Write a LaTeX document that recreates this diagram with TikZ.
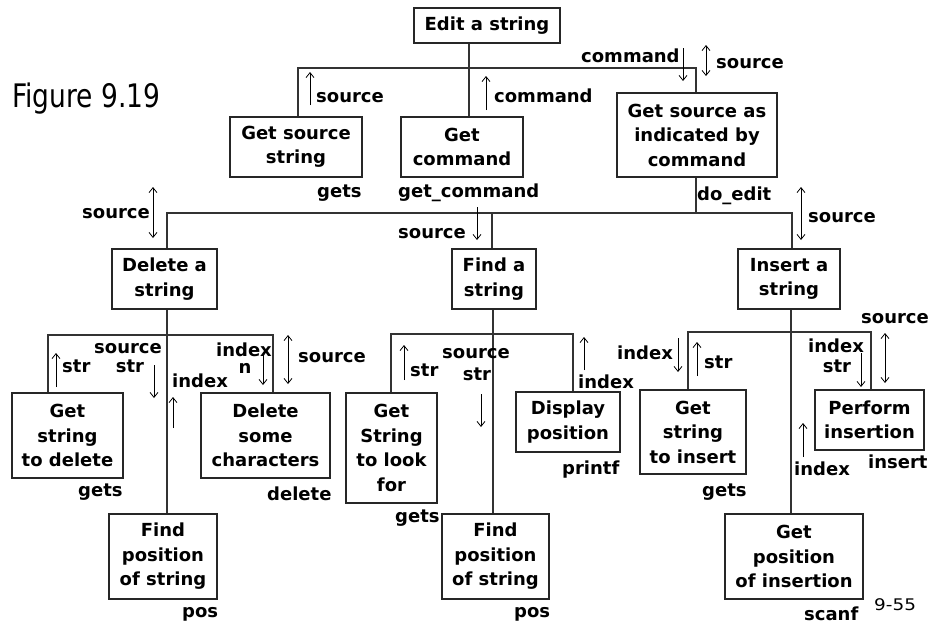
\documentclass[tikz,border=0pt]{standalone}
\usepackage{fontspec}
\setmainfont{DejaVu Sans}
\usetikzlibrary{arrows.meta}
\begin{document}
\begin{tikzpicture}[x=1pt,y=-1pt,
  box/.style={draw=black!85, line width=1.1pt, align=center, inner sep=0pt,
    font=\bfseries\fontsize{18}{24.5}\selectfont},
  lbl/.style={anchor=base west, inner sep=0pt, font=\bfseries\fontsize{18}{22}\selectfont},
  clbl/.style={lbl, anchor=base},
  tree/.style={draw=black!80, line width=1.1pt},
  barb/.tip={Straight Barb[length=5pt,width=8pt]},
  flow/.style={line width=0.8pt, -barb},
  both/.style={line width=0.8pt, barb-barb}]
\useasboundingbox (0,0) rectangle (928,625);

% title and page number
\node[anchor=base west, inner sep=0pt, font=\fontsize{27}{30}\selectfont] (fig) at (12,107) {\scalebox{0.98}[1.2]{Figure 9.19}};
\node[anchor=base west, inner sep=0pt, font=\fontsize{16}{18}\selectfont] (page) at (874,610) {\scalebox{1.15}[1]{9-55}};

% module boxes
\node[box, minimum width=146pt, minimum height=35pt] (edit) at (487,25.5) {Edit a string};
\node[box, minimum width=132pt, minimum height=60pt] (gss)  at (296,147) {Get source\\string};
\node[box, minimum width=122pt, minimum height=60pt] (gcmd) at (462,147) {Get\\command};
\node[box, minimum width=160pt, minimum height=84pt] (gsa)  at (697,135) {Get source as\\indicated by\\command};
\node[box, minimum width=105pt, minimum height=60pt] (del)  at (164.5,279) {Delete a\\string};
\node[box, minimum width=84pt,  minimum height=60pt] (find) at (494,279) {Find a\\string};
\node[box, minimum width=102pt, minimum height=60pt] (ins)  at (789,279) {Insert a\\string};
\node[box, minimum width=111pt, minimum height=85pt] (gsd)  at (67.5,435.5) {Get\\string\\to delete};
\node[box, minimum width=129pt, minimum height=85pt] (dsc)  at (265.5,435.5) {Delete\\some\\characters};
\node[box, minimum width=108pt, minimum height=85pt] (fp1)  at (163,556.5) {Find\\position\\of string};
\node[box, minimum width=91pt,  minimum height=110pt] (gsl) at (391.5,448) {Get\\String\\to look\\for};
\node[box, minimum width=107pt, minimum height=85pt] (fp2)  at (495.5,556.5) {Find\\position\\of string};
\node[box, minimum width=104pt, minimum height=60pt] (dp)   at (568,422) {Display\\position};
\node[box, minimum width=106pt, minimum height=84pt] (gsi)  at (693,432) {Get\\string\\to insert};
\node[box, minimum width=109pt, minimum height=60pt] (pi)   at (869.5,420) {Perform\\insertion};
\node[box, minimum width=138pt, minimum height=85pt] (gpi)  at (794,556.5) {Get\\position\\of insertion};

% bus points of the structure chart
\coordinate (t0) at (469,68);
\coordinate (b1l) at (298,68);
\coordinate (b1r) at (696,68);
\coordinate (t1) at (696,213);
\coordinate (b2l) at (167,213);
\coordinate (b2m) at (492,213);
\coordinate (b2r) at (792,213);
\coordinate (dl) at (167,335);
\coordinate (dbl) at (48,335);
\coordinate (dbr) at (273,335);
\coordinate (fl) at (493,334);
\coordinate (fbl) at (391,334);
\coordinate (fbr) at (573,334);
\coordinate (il) at (791,332);
\coordinate (ibl) at (688,332);
\coordinate (ibr) at (871,332);

% structure lines
\draw[tree] (t0 |- edit.south) -- (t0 |- gcmd.north);
\draw[tree] (b1l |- gss.north) -- (b1l) -- (b1r) -- (b1r |- gsa.north);
\draw[tree] (t1 |- gsa.south) -- (t1);
\draw[tree] (b2l |- del.north) -- (b2l) -- (b2r) -- (b2r |- ins.north);
\draw[tree] (b2m) -- (b2m |- find.north);
\draw[tree] (dl |- del.south) -- (dl |- fp1.north);
\draw[tree] (dbl |- gsd.north) -- (dbl) -- (dbr) -- (dbr |- dsc.north);
\draw[tree] (fl |- find.south) -- (fl |- fp2.north);
\draw[tree] (fbl |- gsl.north) -- (fbl) -- (fbr) -- (fbr |- dp.north);
\draw[tree] (il |- ins.south) -- (il |- gpi.north);
\draw[tree] (ibl |- gsi.north) -- (ibl) -- (ibr) -- (ibr |- pi.north);

% routine names under the boxes
\node[lbl] (n1) at (317,197) {gets};
\node[lbl] (n2) at (398,197) {get\_command};
\node[lbl] (n3) at (697,200) {do\_edit};
\node[lbl] (n4) at (78,496) {gets};
\node[lbl] (n5) at (267,500) {delete};
\node[lbl] (n6) at (395,522) {gets};
\node[lbl] (n7) at (182,617) {pos};
\node[lbl] (n8) at (514,617) {pos};
\node[lbl] (n9) at (562,474) {printf};
\node[lbl] (n10) at (702,496) {gets};
\node[lbl] (n11) at (868,468) {insert};
\node[lbl] (n12) at (804,620) {scanf};

% data couples: top level
\draw[flow] (310,105) -- (310,72);
\node[lbl] (c1) at (316,102) {source};
\draw[flow] (486,110) -- (486,76);
\node[lbl] (c2) at (494,102) {command};
\draw[flow] (683,48) -- (683,81);
\node[lbl] (c3) at (581,62) {command};
\draw[both] (706,45) -- (706,76);
\node[lbl] (c4) at (716,68) {source};

% data couples: second level
\draw[both] (153,187) -- (153,238);
\node[lbl] (c5) at (82,218) {source};
\draw[flow] (477,207) -- (477,240);
\node[lbl] (c6) at (398,238) {source};
\draw[both] (801,187) -- (801,240);
\node[lbl] (c7) at (808,222) {source};

% data couples under Delete a string
\draw[flow] (56,387) -- (56,353);
\node[lbl] (c8) at (62,372) {str};
\node[clbl] (c9) at (128,353) {source};
\node[clbl] (c10) at (130,372) {str};
\draw[flow] (154,365) -- (154,398);
\draw[flow] (173,428) -- (173,397);
\node[lbl] (c11) at (172,387) {index};
\node[clbl] (c12) at (244,356) {index};
\node[clbl] (c13) at (245,373) {n};
\draw[flow] (263,352) -- (263,385);
\draw[both] (288,335) -- (288,384);
\node[lbl] (c14) at (298,362) {source};

% data couples under Find a string
\draw[flow] (404,380) -- (404,345);
\node[lbl] (c15) at (410,376) {str};
\node[clbl] (c16) at (476,358) {source};
\node[clbl] (c17) at (477,380) {str};
\draw[flow] (481,394) -- (481,427);
\draw[flow] (584,370) -- (584,337);
\node[lbl] (c18) at (578,388) {index};

% data couples under Insert a string
\node[lbl] (c19) at (617,359) {index};
\draw[flow] (678,338) -- (678,372);
\draw[flow] (697,376) -- (697,342);
\node[lbl] (c20) at (704,368) {str};
\node[clbl] (c21) at (836,352) {index};
\node[clbl] (c22) at (837,372) {str};
\draw[flow] (861,353) -- (861,387);
\draw[both] (885,333) -- (885,383);
\node[lbl] (c23) at (861,323) {source};
\draw[flow] (803,457) -- (803,423);
\node[lbl] (c24) at (794,475) {index};
\end{tikzpicture}
\end{document}
